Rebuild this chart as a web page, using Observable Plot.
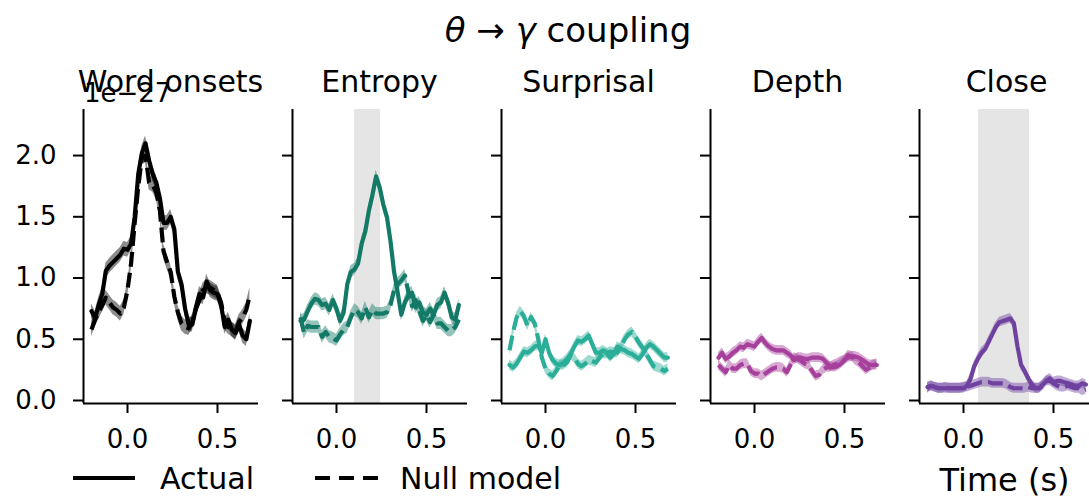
<!DOCTYPE html>
<html><head><meta charset="utf-8">
<script src="https://cdn.jsdelivr.net/npm/d3@7"></script>
<script src="https://cdn.jsdelivr.net/npm/@observablehq/plot@0.6"></script>
<style>
body{margin:0;background:#fff;}
#fig{position:relative;width:1089px;height:497px;overflow:hidden;font-family:"DejaVu Sans";background:#fff;}
#fig > svg{position:absolute;}
</style></head><body><div id="fig"></div>
<script>
// ---- data ----
const time = [-0.2,-0.18,-0.16,-0.14,-0.12,-0.1,-0.08,-0.06,-0.04,-0.02,0,0.02,0.04,0.06,0.08,0.1,0.12,0.14,0.16,0.18,0.2,0.22,0.24,0.26,0.28,0.3,0.32,0.34,0.36,0.38,0.4,0.42,0.44,0.46,0.48,0.5,0.52,0.54,0.56,0.58,0.6,0.62,0.64,0.66,0.68];
const panelNames = ["Word onsets","Entropy","Surprisal","Depth","Close"];
const wordActual = [0.73,0.67,0.78,0.87,1.06,1.10,1.13,1.16,1.19,1.24,1.23,1.28,1.50,1.85,2.02,2.10,1.96,1.85,1.78,1.65,1.45,1.45,1.50,1.40,1.05,0.95,0.75,0.62,0.62,0.75,0.87,0.84,0.97,0.90,0.88,0.87,0.78,0.60,0.66,0.58,0.55,0.62,0.53,0.50,0.65];
const wordNull = [0.58,0.66,0.72,0.78,0.84,0.80,0.76,0.74,0.71,0.76,0.90,1.12,1.45,1.75,1.98,2.00,1.78,1.76,1.70,1.55,1.22,1.13,1.05,0.85,0.72,0.63,0.60,0.59,0.64,0.75,0.82,0.90,0.93,0.92,0.90,0.88,0.80,0.64,0.60,0.58,0.56,0.64,0.68,0.74,0.86];
const entropyActual = [0.65,0.66,0.73,0.79,0.83,0.82,0.78,0.79,0.74,0.82,0.75,0.65,0.72,0.95,1.05,1.07,1.12,1.28,1.38,1.55,1.68,1.83,1.74,1.60,1.50,1.30,1.05,0.88,0.70,0.80,0.86,0.88,0.76,0.80,0.72,0.70,0.75,0.70,0.78,0.80,0.88,0.80,0.68,0.66,0.78];
const entropyNull = [0.68,0.55,0.61,0.60,0.60,0.60,0.52,0.56,0.52,0.51,0.49,0.54,0.58,0.60,0.68,0.74,0.72,0.67,0.76,0.68,0.74,0.71,0.71,0.71,0.72,0.78,0.90,0.95,0.98,1.02,0.88,0.77,0.82,0.73,0.65,0.70,0.64,0.70,0.63,0.63,0.60,0.57,0.57,0.60,0.66];
const surprisalActual = [0.29,0.27,0.30,0.35,0.40,0.39,0.41,0.44,0.45,0.39,0.50,0.39,0.33,0.30,0.29,0.31,0.34,0.38,0.44,0.49,0.48,0.50,0.53,0.46,0.39,0.39,0.41,0.39,0.35,0.38,0.44,0.42,0.41,0.39,0.38,0.36,0.34,0.38,0.43,0.46,0.44,0.41,0.38,0.35,0.35];
const surprisalNull = [0.41,0.56,0.68,0.73,0.69,0.61,0.68,0.63,0.50,0.35,0.26,0.22,0.20,0.24,0.29,0.29,0.31,0.37,0.35,0.30,0.28,0.30,0.33,0.32,0.31,0.35,0.38,0.38,0.40,0.39,0.39,0.44,0.50,0.54,0.56,0.52,0.47,0.43,0.38,0.33,0.28,0.27,0.26,0.24,0.26];
const depthActual = [0.35,0.39,0.34,0.36,0.39,0.41,0.44,0.43,0.46,0.45,0.44,0.48,0.51,0.47,0.44,0.42,0.41,0.41,0.41,0.39,0.37,0.33,0.35,0.35,0.34,0.34,0.35,0.35,0.35,0.34,0.31,0.28,0.27,0.28,0.30,0.33,0.35,0.36,0.36,0.35,0.33,0.31,0.29,0.29,0.29];
const depthNull = [0.29,0.26,0.23,0.29,0.26,0.26,0.29,0.30,0.30,0.24,0.22,0.22,0.20,0.22,0.24,0.26,0.27,0.27,0.26,0.23,0.29,0.35,0.34,0.32,0.30,0.29,0.24,0.20,0.21,0.25,0.27,0.27,0.29,0.30,0.32,0.33,0.37,0.36,0.33,0.31,0.28,0.25,0.27,0.29,0.30];
const closeActual = [0.11,0.12,0.11,0.10,0.10,0.10,0.10,0.10,0.10,0.10,0.10,0.12,0.18,0.28,0.34,0.39,0.42,0.48,0.54,0.60,0.64,0.65,0.66,0.67,0.63,0.44,0.29,0.24,0.18,0.13,0.10,0.10,0.13,0.16,0.18,0.15,0.16,0.16,0.15,0.14,0.13,0.12,0.12,0.14,0.13];
const closeNull = [0.10,0.12,0.11,0.10,0.10,0.11,0.10,0.10,0.10,0.10,0.11,0.11,0.12,0.13,0.14,0.15,0.15,0.15,0.14,0.14,0.14,0.14,0.13,0.11,0.10,0.10,0.10,0.10,0.11,0.10,0.10,0.10,0.12,0.16,0.16,0.14,0.12,0.11,0.11,0.12,0.11,0.10,0.10,0.08,0.09];
const ciHalf = [0.06,0.05,0.04,0.04,0.04];           // half-width of the shaded interval per panel
const sigWindows = [null,[0.10,0.245],null,null,[0.083,0.367]]; // shaded significant windows
const yTicks = [0,0.5,1.0,1.5,2.0];
const xTicks = [0,0.5];
const colors = ["#000000","#137a67","#2aae97","#a6409c","#6f42a0"];
const actuals = [wordActual,entropyActual,surprisalActual,depthActual,closeActual];
const nulls = [wordNull,entropyNull,surprisalNull,depthNull,closeNull];

// ---- layout ----
const fig = document.getElementById("fig");
const spineX = [83,292,501,710,919];
const axW = 175;
const xDomain = [-0.2444,0.7278];
const yDomain = [-0.0245,2.376];
const fmt = d3.format(".1f");

panelNames.forEach((name,i)=>{
  const rows = time.map((t,j)=>({t, a: actuals[i][j], n: nulls[i][j]}));
  const ci = ciHalf[i];
  const c = colors[i];
  const ml = i===0 ? 83 : 14;
  const mr = 12;
  const marks = [];
  if (sigWindows[i]) marks.push(Plot.rect([sigWindows[i]], {x1: d=>d[0], x2: d=>d[1], fill:"#e5e5e5"}));
  marks.push(
    Plot.areaY(rows,{x:"t", y1:d=>d.a-ci, y2:d=>d.a+ci, fill:c, fillOpacity:0.45}),
    Plot.areaY(rows,{x:"t", y1:d=>d.n-ci, y2:d=>d.n+ci, fill:c, fillOpacity:0.45}),
    Plot.lineY(rows,{x:"t", y:"a", stroke:c, strokeWidth:4.2}),
    Plot.lineY(rows,{x:"t", y:"n", stroke:c, strokeWidth:4.2, strokeDasharray:"15,6", strokeLinecap:"butt"}),
    Plot.ruleX([xDomain[0]],{strokeWidth:2}),
    Plot.ruleY([yDomain[0]],{strokeWidth:2}),
    Plot.axisX({ticks:xTicks, tickSize:10, tickPadding:16, strokeWidth:2, tickFormat:fmt, label:null}),
    Plot.axisY({ticks:yTicks, tickSize:10, tickPadding:17, strokeWidth:2, tickFormat: i===0 ? fmt : ()=>"", label:null})
  );
  const svg = Plot.plot({
    width: ml+axW+mr, height:360,
    marginLeft:ml, marginRight:mr, marginTop:9, marginBottom:57,
    x:{domain:xDomain, label:null},
    y:{domain:yDomain, label:null},
    style:{fontFamily:"DejaVu Sans", fontSize:"26px", color:"#000", background:"transparent", overflow:"visible"},
    marks
  });
  svg.style.left = (spineX[i]-ml)+"px";
  svg.style.top = "100px";
  fig.appendChild(svg);
});

// ---- text overlay: titles, offset text, legend, axis label ----
const ov = d3.select(fig).append("svg").attr("width",1089).attr("height",497)
  .style("left","0px").style("top","0px").style("pointer-events","none")
  .style("font-family","DejaVu Sans");
const title = ov.append("text").attr("x",568).attr("y",42).attr("text-anchor","middle").attr("font-size",34);
title.append("tspan").attr("font-style","italic").text("θ");
title.append("tspan").text(" → ");
title.append("tspan").attr("font-style","italic").text("γ");
title.append("tspan").text(" coupling");
panelNames.forEach((name,i)=>{
  ov.append("text").attr("x",spineX[i]+axW/2).attr("y",92).attr("text-anchor","middle").attr("font-size",30).text(name);
});
ov.append("text").attr("x",84).attr("y",102).attr("font-size",26).text("1e\u221227");
// legend
ov.append("line").attr("x1",73).attr("x2",135).attr("y1",478).attr("y2",478).attr("stroke","#000").attr("stroke-width",4.2);
ov.append("text").attr("x",160).attr("y",489).attr("font-size",30).text("Actual");
ov.append("line").attr("x1",315).attr("x2",378).attr("y1",478).attr("y2",478).attr("stroke","#000").attr("stroke-width",4.2).attr("stroke-dasharray","15,9");
ov.append("text").attr("x",400).attr("y",489).attr("font-size",30).text("Null model");
ov.append("text").attr("x",spineX[4]+axW/2 - 2).attr("y",491).attr("text-anchor","middle").attr("font-size",32).text("Time (s)");
</script></body></html>
